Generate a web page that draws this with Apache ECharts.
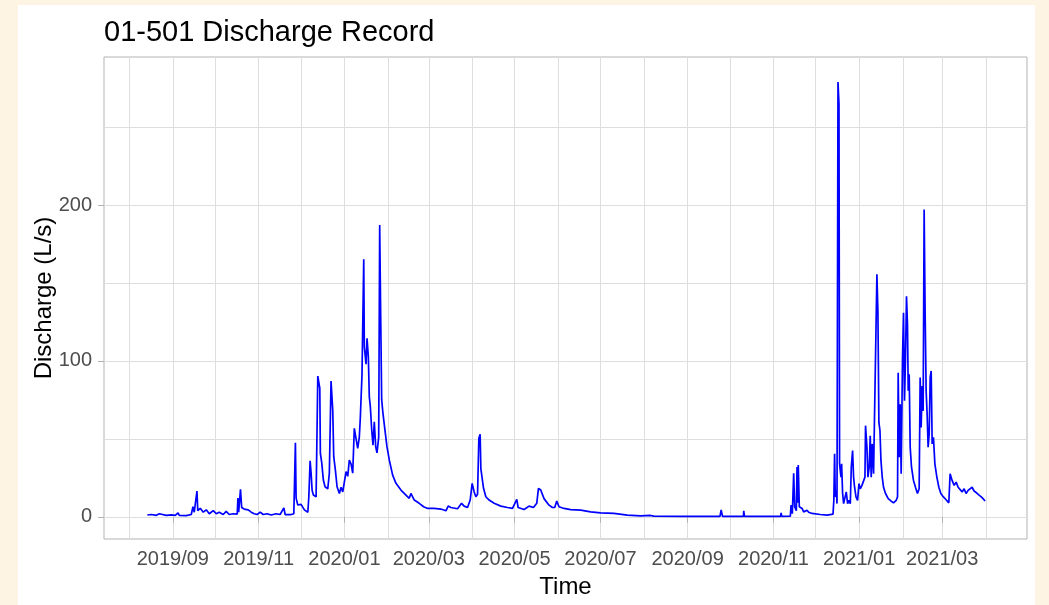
<!DOCTYPE html>
<html>
<head>
<meta charset="utf-8">
<script src="https://cdn.jsdelivr.net/npm/echarts@6/dist/echarts.min.js"></script>
<style>
  html, body { margin: 0; padding: 0; background: #fdf4e3; }
  #paper { position: absolute; left: 18px; top: 5px; width: 1017px; height: 600px; background: #fff; }
  #chart { position: absolute; left: 0; top: 0; width: 1049px; height: 605px; }
</style>
</head>
<body>
<div id="paper"></div>
<div id="chart"></div>
<script>
// discharge record (L/s)
var times = [
  '2019-08-13 22:00','2019-08-16 18:00','2019-08-20 07:00','2019-08-22 10:00','2019-08-23 20:00','2019-08-27 09:00','2019-08-30 23:00',
  '2019-09-02 18:00','2019-09-04 17:00','2019-09-05 15:00','2019-09-10 14:00','2019-09-14 03:00','2019-09-15 08:00','2019-09-16 06:00',
  '2019-09-18 04:00','2019-09-18 18:00','2019-09-20 12:00','2019-09-22 16:00','2019-09-24 19:00','2019-09-26 22:00','2019-09-29 18:00',
  '2019-10-01 21:00','2019-10-04 00:00','2019-10-06 20:00','2019-10-08 23:00','2019-10-11 03:00','2019-10-13 23:00','2019-10-16 19:00',
  '2019-10-17 07:00','2019-10-17 20:00','2019-10-19 03:00','2019-10-19 23:00','2019-10-21 18:00','2019-10-24 14:00','2019-10-26 18:00',
  '2019-10-28 21:00','2019-10-31 00:00','2019-11-02 03:00','2019-11-04 06:00','2019-11-07 02:00','2019-11-09 22:00','2019-11-13 11:00',
  '2019-11-16 07:00','2019-11-18 23:00','2019-11-19 21:00','2019-11-24 03:00','2019-11-26 01:00','2019-11-27 04:00','2019-11-27 16:00',
  '2019-11-28 21:00','2019-12-01 05:00','2019-12-03 13:00','2019-12-06 00:00','2019-12-06 17:00','2019-12-07 15:00','2019-12-08 08:00',
  '2019-12-09 01:00','2019-12-09 23:00','2019-12-10 16:00','2019-12-11 21:00','2019-12-13 02:00','2019-12-14 12:00','2019-12-14 22:00',
  '2019-12-15 22:00','2019-12-17 01:00','2019-12-18 06:00','2019-12-20 04:00','2019-12-21 07:00','2019-12-22 12:00','2019-12-23 17:00',
  '2019-12-24 10:00','2019-12-25 14:00','2019-12-26 19:00','2019-12-28 10:00','2019-12-29 15:00','2019-12-30 20:00','2019-12-31 23:00',
  '2020-01-02 04:00','2020-01-03 09:00','2020-01-04 12:00','2020-01-05 17:00','2020-01-06 22:00','2020-01-08 01:00','2020-01-09 06:00',
  '2020-01-10 11:00','2020-01-11 14:00','2020-01-12 07:00','2020-01-13 12:00','2020-01-14 18:00','2020-01-15 04:00','2020-01-16 09:00',
  '2020-01-17 02:00','2020-01-18 00:00','2020-01-18 17:00','2020-01-19 10:00','2020-01-20 10:00','2020-01-21 08:00','2020-01-22 06:00',
  '2020-01-23 06:00','2020-01-24 04:00','2020-01-25 09:00','2020-01-26 02:00','2020-01-26 19:00','2020-01-27 12:00','2020-01-28 10:00',
  '2020-01-29 20:00','2020-01-31 06:00','2020-02-01 22:00','2020-02-04 07:00','2020-02-06 16:00','2020-02-10 05:00','2020-02-13 18:00',
  '2020-02-16 02:00','2020-02-17 07:00','2020-02-19 16:00','2020-02-23 05:00','2020-02-24 10:00','2020-02-26 08:00','2020-02-29 04:00',
  '2020-03-04 20:00','2020-03-09 14:00','2020-03-13 04:00','2020-03-14 19:00','2020-03-16 17:00','2020-03-21 11:00','2020-03-24 07:00',
  '2020-03-26 03:00','2020-03-28 13:00','2020-03-30 10:00','2020-03-31 20:00','2020-04-02 06:00','2020-04-03 11:00','2020-04-04 16:00',
  '2020-04-05 14:00','2020-04-06 12:00','2020-04-07 00:00','2020-04-07 22:00','2020-04-08 22:00','2020-04-10 13:00','2020-04-12 21:00',
  '2020-04-16 11:00','2020-04-21 05:00','2020-04-25 23:00','2020-04-29 12:00','2020-05-02 13:00','2020-05-03 12:00','2020-05-07 18:00',
  '2020-05-11 07:00','2020-05-14 10:00','2020-05-16 18:00','2020-05-17 23:00','2020-05-19 14:00','2020-05-21 22:00','2020-05-25 12:00',
  '2020-05-27 21:00','2020-05-29 13:00','2020-05-30 23:00','2020-06-01 14:00','2020-06-05 03:00','2020-06-09 21:00','2020-06-17 00:00',
  '2020-06-24 02:00','2020-07-01 05:00','2020-07-10 15:00','2020-07-20 03:00','2020-07-29 14:00','2020-08-05 16:00','2020-08-08 00:00',
  '2020-08-26 23:00','2020-09-10 04:00','2020-09-24 00:00','2020-09-24 21:00','2020-09-25 19:00','2020-10-10 17:00','2020-10-10 22:00',
  '2020-10-11 10:00','2020-11-06 04:00','2020-11-06 11:00','2020-11-07 00:00','2020-11-13 01:00','2020-11-13 13:00','2020-11-14 11:00',
  '2020-11-15 10:00','2020-11-16 03:00','2020-11-17 07:00','2020-11-17 19:00','2020-11-18 04:00','2020-11-18 16:00','2020-11-19 10:00',
  '2020-11-21 09:00','2020-11-22 12:00','2020-11-24 22:00','2020-11-26 01:00','2020-11-28 11:00','2020-12-04 08:00','2020-12-09 03:00',
  '2020-12-13 09:00','2020-12-13 23:00','2020-12-14 12:00','2020-12-15 00:00','2020-12-15 17:00','2020-12-16 05:00','2020-12-16 22:00',
  '2020-12-17 15:00','2020-12-18 01:00','2020-12-19 01:00','2020-12-19 12:00','2020-12-20 05:00','2020-12-20 22:00','2020-12-22 02:00',
  '2020-12-22 19:00','2020-12-23 18:00','2020-12-24 18:00','2020-12-25 16:00','2020-12-26 09:00','2020-12-27 07:00','2020-12-28 00:00',
  '2020-12-28 17:00','2020-12-29 17:00','2020-12-30 20:00','2020-12-31 20:00','2021-01-01 18:00','2021-01-02 23:00','2021-01-04 02:00',
  '2021-01-05 02:00','2021-01-05 12:00','2021-01-06 12:00','2021-01-07 05:00','2021-01-08 03:00','2021-01-08 20:00','2021-01-09 13:00',
  '2021-01-10 06:00','2021-01-11 05:00','2021-01-12 10:00','2021-01-13 14:00','2021-01-14 07:00','2021-01-15 00:00','2021-01-15 18:00',
  '2021-01-16 11:00','2021-01-17 09:00','2021-01-18 07:00','2021-01-19 17:00','2021-01-21 15:00','2021-01-23 13:00','2021-01-25 09:00',
  '2021-01-27 07:00','2021-01-28 06:00','2021-01-28 17:00','2021-01-29 10:00','2021-01-30 03:00','2021-01-30 20:00','2021-01-31 19:00',
  '2021-02-01 12:00','2021-02-02 05:00','2021-02-02 22:00','2021-02-03 15:00','2021-02-04 08:00','2021-02-04 20:00','2021-02-05 13:00',
  '2021-02-06 06:00','2021-02-07 04:00','2021-02-08 14:00','2021-02-10 00:00','2021-02-11 10:00','2021-02-12 15:00','2021-02-13 08:00',
  '2021-02-14 01:00','2021-02-14 18:00','2021-02-15 11:00','2021-02-16 04:00','2021-02-16 21:00','2021-02-17 14:00','2021-02-18 07:00',
  '2021-02-19 00:00','2021-02-19 18:00','2021-02-20 11:00','2021-02-21 04:00','2021-02-21 21:00','2021-02-22 19:00','2021-02-23 19:00',
  '2021-02-25 05:00','2021-02-26 15:00','2021-02-28 01:00','2021-03-01 21:00','2021-03-03 19:00','2021-03-05 17:00','2021-03-06 15:00',
  '2021-03-08 01:00','2021-03-09 12:00','2021-03-10 22:00','2021-03-12 08:00','2021-03-13 18:00','2021-03-15 04:00','2021-03-16 14:00',
  '2021-03-18 00:00','2021-03-19 10:00','2021-03-20 20:00','2021-03-22 06:00','2021-03-23 16:00','2021-03-25 14:00','2021-03-27 11:00',
  '2021-03-29 09:00','2021-03-31 12:00'
];
var discharge = [
  1.2,1.5,1.0,2.0,1.2,1.0,1.3,
  1.0,2.5,1.0,0.8,1.5,6.5,3.0,
  16.6,4.0,5.5,3.0,4.5,2.0,4.0,
  2.0,3.0,1.5,3.5,1.5,2.0,1.8,
  12.0,3.0,17.6,6.0,5.0,4.5,3.0,
  2.0,1.5,3.0,1.5,2.0,1.2,2.0,
  1.5,5.8,1.5,1.5,2.0,47.6,12.0,
  7.6,8.0,4.5,3.0,12.9,36.0,28.0,
  17.0,14.0,15.0,12.8,90.3,82.5,40.7,
  34.5,23.6,19.3,18.0,28.0,87.2,68.5,
  38.6,30.0,19.3,15.0,19.0,16.0,17.0,
  29.0,26.0,36.5,34.0,28.0,56.8,57.7,
  44.0,51.0,63.2,91.0,165.3,109.0,98.0,
  114.6,103.0,77.0,71.0,55.7,46.0,61.0,
  45.0,41.0,51.0,187.3,129.5,75.0,66.4,
  55.7,45.0,36.5,26.8,21.5,17.2,14.0,
  11.9,15.0,10.8,8.7,9.5,6.5,5.4,
  5.4,5.0,3.9,6.9,6.0,5.2,8.7,
  6.9,6.0,10.8,21.5,16.0,12.9,14.5,
  50.4,53.0,31.0,30.0,18.3,12.9,10.8,
  8.7,6.9,6.0,5.4,11.2,6.0,4.7,
  6.9,6.0,8.7,18.3,17.2,11.7,7.5,
  6.0,6.0,10.1,6.5,5.4,4.7,4.3,
  3.2,2.6,2.2,1.1,0.6,0.9,0.5,
  0.3,0.3,0.3,4.5,0.3,0.3,3.9,
  0.3,0.3,2.6,0.3,0.5,7.6,2.0,
  27.9,6.5,4.0,32.0,9.0,33.2,6.5,
  5.4,3.2,4.3,3.0,2.2,1.5,1.1,
  1.7,10.6,40.4,12.8,17.0,8.5,279.0,
  265.0,34.0,25.5,34.0,15.0,8.5,7.4,
  16.0,8.5,10.6,8.5,32.0,42.5,25.5,
  19.0,12.8,10.6,21.3,18.0,20.2,21.3,
  25.5,58.5,44.7,25.5,32.0,52.0,25.5,
  46.8,27.7,26.6,155.7,132.0,60.6,55.3,
  36.2,25.5,19.0,15.0,11.7,10.2,9.0,
  10.6,12.8,92.5,38.3,72.3,27.7,102.0,
  131.0,74.5,102.0,141.5,123.4,80.9,91.5,
  44.7,32.0,23.4,19.0,15.0,18.0,89.4,
  57.4,84.0,68.0,197.2,131.0,80.9,66.0,
  44.7,53.2,89.4,93.6,46.8,51.0,34.0,
  25.5,19.0,15.0,12.8,11.0,9.0,27.7,
  23.4,20.2,22.3,19.0,20.2,16.0,18.0,
  15.0,17.0,16.0,19.0,16.6,15.3,13.8,
  12.3,10.2
];

// axis breaks
var majorDates = ['2019-09-01','2019-11-01','2020-01-01','2020-03-01','2020-05-01',
  '2020-07-01','2020-09-01','2020-11-01','2021-01-01','2021-03-01'];
var minorDates = ['2019-08-01','2019-10-01','2019-12-01','2020-02-01','2020-04-01','2020-06-01',
  '2020-08-01','2020-10-01','2020-12-01','2021-02-01','2021-04-01'];
var yMajor = [0, 100, 200];
var yMinor = [50, 150, 250];

// local-time timestamp from 'YYYY-MM-DD' or 'YYYY-MM-DD HH:mm'
function ts(s) {
  var p = s.split(/[- :]/);
  return new Date(+p[0], +p[1] - 1, +p[2], +(p[3] || 0), +(p[4] || 0)).getTime();
}

var xMin = ts('2019-07-14 02:00');
var xMax = ts('2021-04-30 07:00');
var yMin = -14.2, yMax = 295;

var font = '"Liberation Sans", Arial, sans-serif';
var gridColor = '#dedede';

function ym(v) {
  var d = new Date(v);
  var m = d.getMonth() + 1;
  return d.getFullYear() + '/' + (m < 10 ? '0' + m : m);
}

var seriesData = times.map(function (t, i) { return [ts(t), discharge[i]]; });

var chart = echarts.init(document.getElementById('chart'), null, { renderer: 'canvas' });
chart.setOption({
  animation: false,
  backgroundColor: 'transparent',
  textStyle: { fontFamily: font },
  title: {
    text: '01-501 Discharge Record',
    left: 104,
    top: 18,
    padding: 0,
    textStyle: { fontSize: 29, fontWeight: 'normal', color: '#000', fontFamily: font }
  },
  grid: {
    left: 104, right: 22, top: 57, bottom: 66,
    show: true, borderColor: '#b3b3b3', borderWidth: 1,
    containLabel: false,
    outerBoundsMode: 'none'
  },
  xAxis: [{
    type: 'value',
    min: xMin, max: xMax,
    axisLine: { show: false },
    axisTick: { show: true, length: 6, lineStyle: { color: '#b3b3b3' }, customValues: majorDates.map(ts) },
    axisLabel: { customValues: majorDates.map(ts), formatter: ym, color: '#4d4d4d', fontSize: 20, margin: 10, fontFamily: font },
    splitLine: { show: true, lineStyle: { color: gridColor, width: 1 } },
    name: 'Time', nameLocation: 'middle', nameGap: 36, nameMoveOverlap: false,
    nameTextStyle: { fontSize: 24, color: '#000', fontFamily: font }
  }, {
    type: 'value',
    min: xMin, max: xMax,
    position: 'bottom',
    axisLine: { show: false },
    axisTick: { show: false, customValues: minorDates.map(ts) },
    axisLabel: { show: false },
    splitLine: { show: true, lineStyle: { color: gridColor, width: 1 } }
  }],
  yAxis: [{
    type: 'value',
    min: yMin, max: yMax,
    axisLine: { show: false },
    axisTick: { show: true, length: 6, lineStyle: { color: '#b3b3b3' }, customValues: yMajor },
    axisLabel: { customValues: yMajor, color: '#4d4d4d', fontSize: 20, margin: 12, fontFamily: font },
    splitLine: { show: true, lineStyle: { color: gridColor, width: 1 } },
    name: 'Discharge (L/s)', nameLocation: 'middle', nameGap: 48, nameMoveOverlap: false,
    nameTextStyle: { fontSize: 24, color: '#000', fontFamily: font }
  }, {
    type: 'value',
    min: yMin, max: yMax,
    position: 'left',
    axisLine: { show: false },
    axisTick: { show: false, customValues: yMinor },
    axisLabel: { show: false },
    splitLine: { show: true, lineStyle: { color: gridColor, width: 1 } }
  }],
  series: [{
    type: 'line',
    xAxisIndex: 0, yAxisIndex: 0,
    data: seriesData,
    showSymbol: false,
    symbol: 'none',
    lineStyle: { color: '#0000ff', width: 1.7 },
    z: 5
  }]
});
</script>
</body>
</html>
